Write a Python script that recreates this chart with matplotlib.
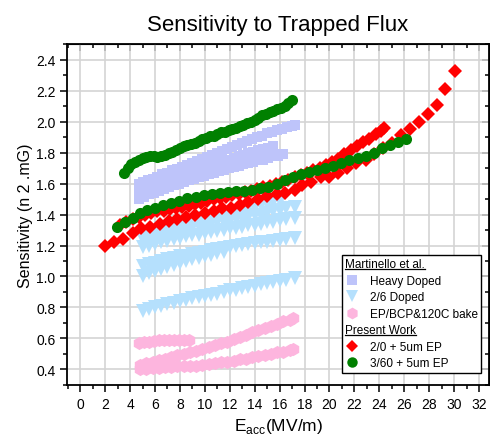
import numpy as np
import matplotlib
matplotlib.use('Agg')
import matplotlib.pyplot as plt
from matplotlib.lines import Line2D
from matplotlib.ticker import MultipleLocator

plt.rcParams['font.family'] = ['Liberation Sans', 'DejaVu Sans']

# Martinello et al. - heavy doped (x = Eacc MV/m, y = sensitivity)
heavy_a = np.array([[4.7, 1.60], [5.0, 1.61], [5.4, 1.62], [5.8, 1.63], [6.2, 1.645], [6.6, 1.66],
                    [7.0, 1.67], [7.4, 1.685], [7.8, 1.695], [8.2, 1.71], [8.6, 1.72], [9.0, 1.735],
                    [9.4, 1.745], [9.8, 1.76], [10.2, 1.77], [10.6, 1.785], [11.0, 1.80], [11.4, 1.81],
                    [11.8, 1.825], [12.2, 1.835], [12.6, 1.85], [13.0, 1.86], [13.4, 1.875], [13.8, 1.885],
                    [14.2, 1.90], [14.6, 1.91], [15.0, 1.925], [15.4, 1.935], [15.8, 1.945], [16.2, 1.955],
                    [16.6, 1.965], [17.0, 1.975], [17.2, 1.98]])
heavy_b = np.array([[4.7, 1.54], [5.1, 1.55], [5.5, 1.565], [5.9, 1.575], [6.3, 1.59], [6.7, 1.60],
                    [7.1, 1.615], [7.5, 1.625], [7.9, 1.64], [8.3, 1.65], [8.7, 1.66], [9.1, 1.675],
                    [9.5, 1.685], [9.9, 1.70], [10.3, 1.71], [10.7, 1.72], [11.1, 1.735], [11.5, 1.745],
                    [11.9, 1.755], [12.3, 1.765], [12.7, 1.775], [13.1, 1.785], [13.5, 1.795], [13.9, 1.805],
                    [14.3, 1.815], [14.7, 1.825], [15.1, 1.83], [15.5, 1.84]])
heavy_c = np.array([[4.7, 1.50], [5.1, 1.515], [5.5, 1.53], [5.9, 1.54], [6.3, 1.555], [6.7, 1.565],
                    [7.1, 1.575], [7.5, 1.59], [7.9, 1.60], [8.3, 1.61], [8.7, 1.62], [9.1, 1.63],
                    [9.5, 1.64], [9.9, 1.65], [10.3, 1.66], [10.7, 1.67], [11.1, 1.68], [11.5, 1.69],
                    [11.9, 1.70], [12.3, 1.705], [12.7, 1.715], [13.1, 1.725], [13.5, 1.73], [13.9, 1.74],
                    [14.3, 1.75], [14.7, 1.755], [15.1, 1.765], [15.5, 1.775], [15.9, 1.78], [16.3, 1.79]])

# Martinello et al. - 2/6 doped
doped_a = np.array([[5.0, 1.28], [5.5, 1.29], [6.0, 1.30], [6.5, 1.31], [7.0, 1.32], [7.5, 1.33],
                    [8.0, 1.34], [8.5, 1.35], [9.0, 1.36], [9.5, 1.37], [10.0, 1.38], [10.5, 1.39],
                    [11.0, 1.395], [11.5, 1.405], [12.0, 1.415], [12.5, 1.42], [13.0, 1.43], [13.5, 1.44],
                    [14.0, 1.45], [14.5, 1.46], [15.0, 1.47], [15.5, 1.48], [16.0, 1.49]])
doped_b = np.array([[5.0, 1.24], [5.5, 1.25], [6.0, 1.26], [6.5, 1.27], [7.0, 1.28], [7.5, 1.29],
                    [8.0, 1.30], [8.5, 1.31], [9.0, 1.315], [9.5, 1.325], [10.0, 1.33], [10.5, 1.34],
                    [11.0, 1.35], [11.5, 1.355], [12.0, 1.365], [12.5, 1.37], [13.0, 1.38], [13.5, 1.385],
                    [14.0, 1.395], [14.5, 1.40], [15.0, 1.41], [15.5, 1.42], [16.0, 1.43], [16.5, 1.44],
                    [17.2, 1.45]])
doped_c = np.array([[5.0, 1.19], [5.5, 1.20], [6.0, 1.21], [6.5, 1.22], [7.0, 1.23], [7.5, 1.24],
                    [8.0, 1.25], [8.5, 1.26], [9.0, 1.265], [9.5, 1.27], [10.0, 1.28], [10.5, 1.29],
                    [11.0, 1.295], [11.5, 1.30], [12.0, 1.31], [12.5, 1.315], [13.0, 1.32], [13.5, 1.33],
                    [14.0, 1.335], [14.5, 1.34], [15.0, 1.35], [15.5, 1.355], [16.0, 1.365], [16.5, 1.37],
                    [17.2, 1.38]])
doped_d = np.array([[5.0, 1.07], [5.5, 1.08], [6.0, 1.09], [6.5, 1.10], [7.0, 1.11], [7.5, 1.12],
                    [8.0, 1.13], [8.5, 1.135], [9.0, 1.145], [9.5, 1.15], [10.0, 1.16], [10.5, 1.17],
                    [11.0, 1.18], [11.5, 1.185], [12.0, 1.19], [12.5, 1.20], [13.0, 1.205], [13.5, 1.21],
                    [14.0, 1.215], [14.5, 1.22], [15.0, 1.225], [15.5, 1.23], [16.0, 1.235], [16.5, 1.24],
                    [17.2, 1.25]])
doped_e = np.array([[5.0, 1.00], [5.5, 1.02], [6.0, 1.035], [6.5, 1.05], [7.0, 1.06], [7.5, 1.075],
                    [8.0, 1.085], [8.5, 1.10], [9.0, 1.11], [9.5, 1.12], [10.0, 1.13], [10.5, 1.14],
                    [11.0, 1.15], [11.5, 1.16]])
doped_f = np.array([[5.0, 0.78], [5.5, 0.79], [6.0, 0.80], [6.5, 0.81], [7.0, 0.82], [7.5, 0.83],
                    [8.0, 0.84], [8.5, 0.85], [9.0, 0.86], [9.5, 0.865], [10.0, 0.875], [10.5, 0.88],
                    [11.0, 0.89], [11.5, 0.90], [12.0, 0.91], [12.5, 0.915], [13.0, 0.925], [13.5, 0.93],
                    [14.0, 0.94], [14.5, 0.95], [15.0, 0.955], [15.5, 0.965], [16.0, 0.97], [16.5, 0.98],
                    [17.2, 0.99]])

# Martinello et al. - EP/BCP & 120C bake
bake_a = np.array([[4.7, 0.57], [5.1, 0.575], [5.5, 0.58], [5.9, 0.585], [6.3, 0.59], [6.7, 0.59],
                   [7.1, 0.59], [7.5, 0.59], [7.9, 0.59], [8.3, 0.59], [8.7, 0.59]])
bake_b = np.array([[4.8, 0.43], [5.3, 0.44], [5.8, 0.45], [6.3, 0.46], [6.8, 0.47], [7.3, 0.48],
                   [7.8, 0.49], [8.3, 0.50], [8.8, 0.51], [9.3, 0.52], [9.8, 0.53], [10.3, 0.545],
                   [10.8, 0.555], [11.3, 0.57], [11.8, 0.58], [12.3, 0.595], [12.8, 0.61], [13.3, 0.625],
                   [13.8, 0.64], [14.3, 0.655], [14.8, 0.665], [15.3, 0.68], [15.8, 0.695], [16.3, 0.71],
                   [16.8, 0.72], [17.1, 0.73]])
bake_c = np.array([[4.8, 0.40], [5.3, 0.405], [5.8, 0.41], [6.3, 0.41], [6.8, 0.415], [7.3, 0.415],
                   [7.8, 0.42], [8.3, 0.42], [8.8, 0.42], [9.3, 0.425], [9.8, 0.43], [10.3, 0.435],
                   [10.8, 0.44], [11.3, 0.445], [11.8, 0.45], [12.3, 0.455], [12.8, 0.465], [13.3, 0.47],
                   [13.8, 0.48], [14.3, 0.485], [14.8, 0.495], [15.3, 0.50], [15.8, 0.51], [16.3, 0.515],
                   [16.8, 0.525], [17.1, 0.53]])

# Present work - 2/0 + 5um EP
red_a = np.array([[3.2, 1.33], [3.7, 1.35], [4.2, 1.37], [4.7, 1.385], [5.2, 1.40], [5.7, 1.41],
                  [6.2, 1.42], [6.7, 1.425], [7.2, 1.435], [7.7, 1.44], [8.2, 1.45], [8.7, 1.455],
                  [9.2, 1.465], [9.7, 1.475], [10.2, 1.485], [10.7, 1.50], [11.2, 1.505], [11.7, 1.515],
                  [12.2, 1.525], [12.7, 1.535], [13.2, 1.545], [13.7, 1.555], [14.2, 1.565], [14.7, 1.575],
                  [15.2, 1.585], [15.7, 1.595], [16.2, 1.61], [16.7, 1.625], [17.2, 1.64], [17.7, 1.655],
                  [18.2, 1.67], [18.7, 1.685], [19.2, 1.70], [19.7, 1.72], [20.2, 1.74], [20.7, 1.76],
                  [21.2, 1.79], [21.7, 1.82], [22.2, 1.84], [22.7, 1.87], [23.2, 1.89], [23.7, 1.92],
                  [24.1, 1.94], [24.4, 1.96]])
red_b = np.array([[2.0, 1.20], [2.73, 1.22], [3.47, 1.245], [4.2, 1.28], [4.9, 1.31], [5.6, 1.32],
                  [6.4, 1.34], [7.1, 1.36], [7.8, 1.37], [8.5, 1.385], [9.2, 1.40], [10.0, 1.41],
                  [10.7, 1.42], [11.4, 1.44], [12.1, 1.44], [12.8, 1.46], [13.5, 1.48], [14.3, 1.50],
                  [15.0, 1.52], [15.8, 1.53], [16.4, 1.54], [17.2, 1.56], [17.8, 1.59], [18.5, 1.61],
                  [19.3, 1.64], [20.0, 1.645], [20.7, 1.67], [21.4, 1.70], [22.1, 1.73], [22.9, 1.75],
                  [23.6, 1.79], [24.3, 1.83], [25.0, 1.86], [25.7, 1.915], [26.5, 1.95], [27.2, 2.0],
                  [27.9, 2.05], [28.6, 2.11], [29.3, 2.21], [30.07, 2.33]])

# Present work - 3/60 + 5um EP
green_a = np.array([[3.5, 1.67], [3.8, 1.70], [4.1, 1.725], [4.4, 1.74], [4.7, 1.755], [5.0, 1.765],
                    [5.3, 1.77], [5.6, 1.775], [5.9, 1.775], [6.2, 1.77], [6.5, 1.775], [6.8, 1.785],
                    [7.1, 1.795], [7.4, 1.805], [7.7, 1.815], [8.0, 1.83], [8.3, 1.84], [8.6, 1.85],
                    [8.9, 1.855], [9.2, 1.865], [9.5, 1.875], [9.8, 1.885], [10.1, 1.895], [10.4, 1.905],
                    [10.7, 1.91], [11.0, 1.92], [11.3, 1.93], [11.6, 1.935], [11.9, 1.945], [12.2, 1.95],
                    [12.5, 1.96], [12.8, 1.97], [13.1, 1.98], [13.4, 1.99], [13.7, 2.00], [14.0, 2.01],
                    [14.3, 2.025], [14.6, 2.04], [14.9, 2.05], [15.2, 2.06], [15.5, 2.07], [15.8, 2.08],
                    [16.1, 2.09], [16.4, 2.10], [16.7, 2.12], [17.0, 2.14]])
green_b = np.array([[2.95, 1.32], [3.6, 1.355], [4.2, 1.38], [4.8, 1.41], [5.35, 1.43], [6.0, 1.445],
                    [6.65, 1.46], [7.3, 1.475], [7.95, 1.49], [8.6, 1.505], [9.25, 1.515], [9.9, 1.525],
                    [10.55, 1.535], [11.2, 1.54], [11.85, 1.545], [12.5, 1.55], [13.15, 1.555], [13.8, 1.56],
                    [14.45, 1.57], [15.1, 1.58], [15.75, 1.595], [16.4, 1.62], [17.05, 1.64], [17.7, 1.66],
                    [18.35, 1.675], [19.0, 1.69], [19.65, 1.70], [20.3, 1.715], [20.95, 1.73], [21.6, 1.75],
                    [22.25, 1.765], [22.9, 1.775], [23.55, 1.80], [24.2, 1.83], [24.85, 1.85], [25.5, 1.87],
                    [26.1, 1.89]])

heavy_col = '#BEC4FA'
doped_col = '#B5E0FD'
bake_col = '#FDB5DE'
red_col = '#FF0000'
green_col = '#008000'

fig = plt.figure(figsize=(4.9, 4.39), dpi=100)
ax = fig.add_axes([0.137, 0.121, 0.861, 0.776])

for d in [heavy_a, heavy_b, heavy_c]:
    ax.plot(d[:, 0], d[:, 1], 's', color=heavy_col, ms=7.5, mew=0)
for d in [doped_a, doped_b, doped_c, doped_d, doped_e, doped_f]:
    ax.plot(d[:, 0], d[:, 1], 'v', color=doped_col, ms=9.5, mew=0)
for d in [bake_a, bake_b, bake_c]:
    ax.plot(d[:, 0], d[:, 1], 'h', color=bake_col, ms=9.5, mew=0)
for d in [red_a, red_b]:
    ax.plot(d[:, 0], d[:, 1], 'D', color=red_col, ms=7, mew=0)
for d in [green_a, green_b]:
    ax.plot(d[:, 0], d[:, 1], 'o', color=green_col, ms=8, mew=0)

ax.set_xlim(-1.05, 32.8)
ax.set_ylim(0.3, 2.5)
ax.xaxis.set_major_locator(MultipleLocator(2))
ax.xaxis.set_minor_locator(MultipleLocator(1))
ax.yaxis.set_major_locator(MultipleLocator(0.2))
ax.yaxis.set_minor_locator(MultipleLocator(0.1))
ax.grid(True, which='major', color='#d4d4d4', lw=1.2)
ax.set_axisbelow(True)
for s in ax.spines.values():
    s.set_linewidth(1.3)
ax.tick_params(which='both', direction='out', labelsize=10, width=1.1)
ax.tick_params(which='major', length=5)
ax.tick_params(which='minor', length=3)

# top / right ticks point inward, as in Origin
top = ax.secondary_xaxis('top')
top.xaxis.set_major_locator(MultipleLocator(2))
top.xaxis.set_minor_locator(MultipleLocator(1))
top.tick_params(which='both', direction='in', labeltop=False, width=1.1)
top.tick_params(which='major', length=5)
top.tick_params(which='minor', length=3)
right = ax.secondary_yaxis('right')
right.yaxis.set_major_locator(MultipleLocator(0.2))
right.yaxis.set_minor_locator(MultipleLocator(0.1))
right.tick_params(which='both', direction='in', labelright=False, width=1.1)
right.tick_params(which='major', length=5)
right.tick_params(which='minor', length=3)

ax.set_title('Sensitivity to Trapped Flux', fontsize=16, pad=10)
ax.set_xlabel('E$_{\\mathregular{acc}}$(MV/m)', fontsize=12.5, labelpad=4)
ax.set_ylabel('Sensitivity (n 2 .mG)', fontsize=11.5, labelpad=2)

blank = Line2D([], [], ls='none')
handles = [blank,
           Line2D([], [], ls='none', marker='s', color=heavy_col, ms=6.5, mew=0),
           Line2D([], [], ls='none', marker='v', color=doped_col, ms=9, mew=0),
           Line2D([], [], ls='none', marker='h', color=bake_col, ms=8.5, mew=0),
           blank,
           Line2D([], [], ls='none', marker='D', color=red_col, ms=6.5, mew=0),
           Line2D([], [], ls='none', marker='o', color=green_col, ms=7.5, mew=0)]
labels = ['Martinello et al.', 'Heavy Doped', '2/6 Doped', 'EP/BCP&120C bake',
          'Present Work', '2/0 + 5um EP', '3/60 + 5um EP']
leg = ax.legend(handles, labels, loc='lower right', bbox_to_anchor=(0.982, 0.035),
                borderaxespad=0, fontsize=8.5, frameon=True, fancybox=False,
                handlelength=1.2, handletextpad=0.9, labelspacing=0.38,
                borderpad=0.3, framealpha=1)
leg.get_frame().set_edgecolor('black')
leg.get_frame().set_linewidth(1.0)

headers = ['Martinello et al.', 'Present Work']
for col in leg._legend_handle_box.get_children():
    for row in col.get_children():
        da, ta = row.get_children()
        if ta.get_text() in headers:
            da.width = 0
            row.sep = 0

fig.canvas.draw()
inv = fig.transFigure.inverted()
for txt in leg.get_texts():
    if txt.get_text() in headers:
        bb = txt.get_window_extent()
        (x0, y0), (x1, _) = inv.transform([(bb.x0, bb.y0 + 1), (bb.x1, bb.y0)])
        fig.add_artist(Line2D([x0, x1], [y0, y0], transform=fig.transFigure,
                              color='black', lw=0.9))

fig.savefig('out.png', dpi=100)
